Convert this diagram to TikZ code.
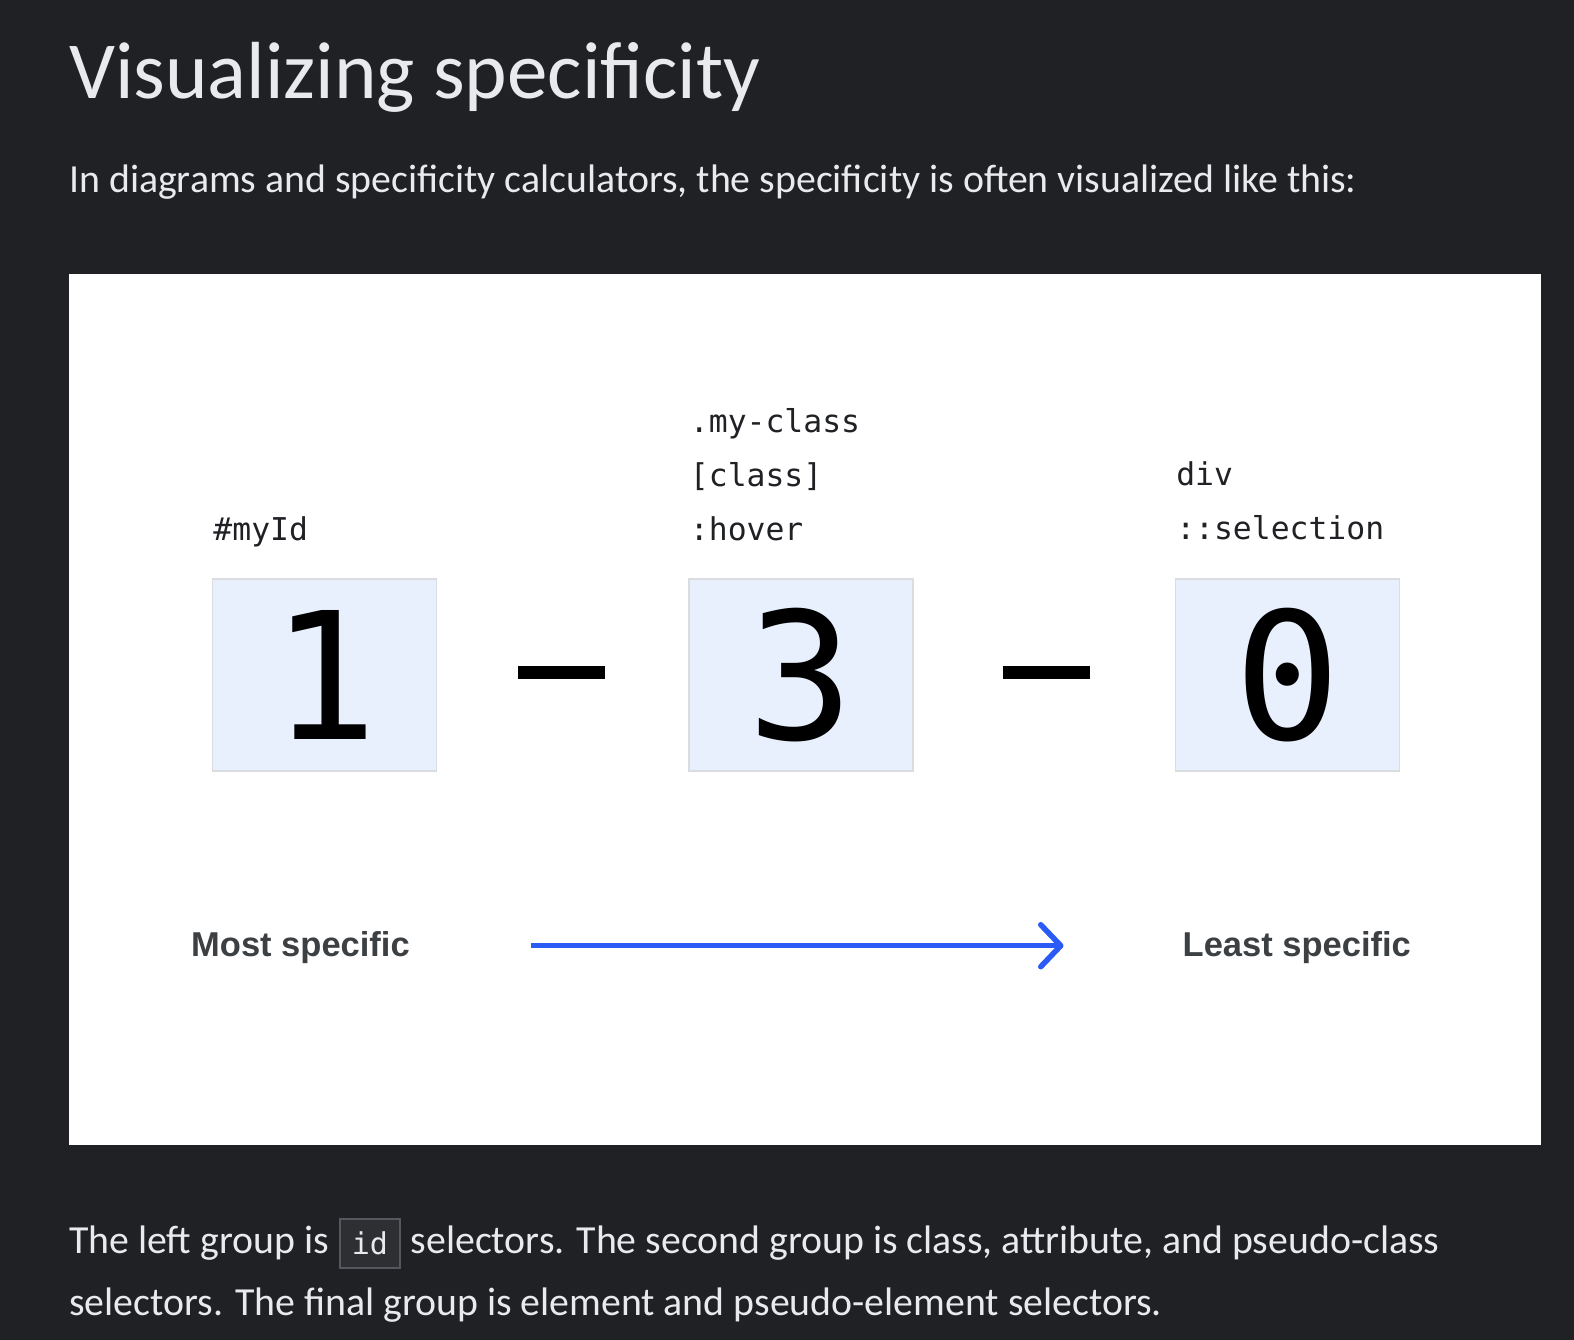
\documentclass[tikz,border=0pt]{standalone}
\usepackage{fontspec}
\usepackage{tikz}
\usetikzlibrary{positioning,arrows.meta}
\setmainfont{Carlito}
\newfontfamily\monofont{DejaVu Sans Mono}
\newfontfamily\labelfont{Liberation Sans}
\definecolor{pagebg}{HTML}{202124}
\definecolor{pagetext}{HTML}{E8EAED}
\definecolor{cellfill}{HTML}{E8F0FE}
\definecolor{celldraw}{HTML}{DADCE0}
\definecolor{inkgray}{HTML}{3C4043}
\definecolor{flowblue}{HTML}{2B5BF5}
\definecolor{codefill}{HTML}{2E2F33}
\definecolor{codedraw}{HTML}{55575C}

\begin{document}
\begin{tikzpicture}[
    x=1pt, y=1pt,
    para/.style={text=pagetext, inner sep=0pt, font=\fontsize{39.8}{47}\selectfont,
                 text height=28pt, text depth=8pt},
    cell/.style={draw=celldraw, line width=1.5pt, fill=cellfill, inner sep=0pt,
                 minimum width=224pt, minimum height=192pt,
                 font=\monofont\fontsize{177}{177}\selectfont},
    sel/.style={anchor=base west, inner sep=0pt, text=pagebg,
                font=\monofont\fontsize{31.4}{37}\selectfont},
    sepbar/.style={fill=black, minimum width=87pt, minimum height=13pt, inner sep=0pt},
    side/.style={anchor=base west, inner sep=0pt, text=inkgray,
                 font=\labelfont\bfseries\fontsize{34.5}{40}\selectfont},
    flow/.style={flowblue, line width=5.5pt,
                 -{Straight Barb[length=20pt, width=42pt, round]}},
  ]
  % page and white panel
  \fill[pagebg] (0,0) rectangle (1574,-1340);
  \fill[white] (69,-274) rectangle (1541,-1145);

  \node[anchor=base west, inner sep=0pt, text=pagetext, font=\fontsize{81}{97}\selectfont]
    (title) at (69,-98.3) {Visualizing specificity};
  \node[para, anchor=base west] (lead) at (69,-192.7)
    {In diagrams and specificity calculators, the specificity is often visualized like this:};

  % the three counts
  \node[cell] (idcell) at (324.5,-675) {1};
  \node[cell] (classcell) at (801,-675) {3};
  \node[cell] (elemcell) at (1287.3,-675) {0};
  \node[sepbar] (sep1) at (561.5,-672.5) {};
  \node[sepbar] (sep2) at (1046.5,-672.5) {};

  % selectors above each count
  \node[sel] (idsel) at ([xshift=1.5]idcell.north west |- 0,-540) {\#myId};
  \node[sel] (hoversel) at ([xshift=1.5]classcell.north west |- 0,-540) {:hover};
  \node[sel] (attrsel) at ([xshift=1.5]classcell.north west |- 0,-486) {[class]};
  \node[sel] (classsel) at ([xshift=1.5]classcell.north west |- 0,-432) {.my-class};
  \node[sel] (pseudosel) at ([xshift=1.5]elemcell.north west |- 0,-539) {::selection};
  \node[sel] (divsel) at ([xshift=1.5]elemcell.north west |- 0,-485) {div};

  % direction
  \node[side] (most) at (191,-956) {Most specific};
  \node[side] (least) at (1182.5,-956) {Least specific};
  \coordinate (flowstart) at (530.8,-945.7);
  \coordinate (flowend) at (1063.5,-945.7);
  \draw[flow] (flowstart) -- (flowend);

  % closing paragraph
  \node[para, anchor=base west] (tail1) at (69,-1253.3) {The left group is};
  \node[draw=codedraw, line width=1.5pt, fill=codefill, text=pagetext, inner sep=0pt,
        minimum width=60pt, minimum height=49pt, font=\monofont\fontsize{30}{36}\selectfont,
        right=10pt of tail1] (code) {id};
  \node[para, right=10pt of code] (tail2)
    {selectors. The second group is class, attribute, and pseudo-class};
  \node[para, anchor=base west] (tail3) at (69,-1315)
    {selectors. The final group is element and pseudo-element selectors.};
\end{tikzpicture}
\end{document}
